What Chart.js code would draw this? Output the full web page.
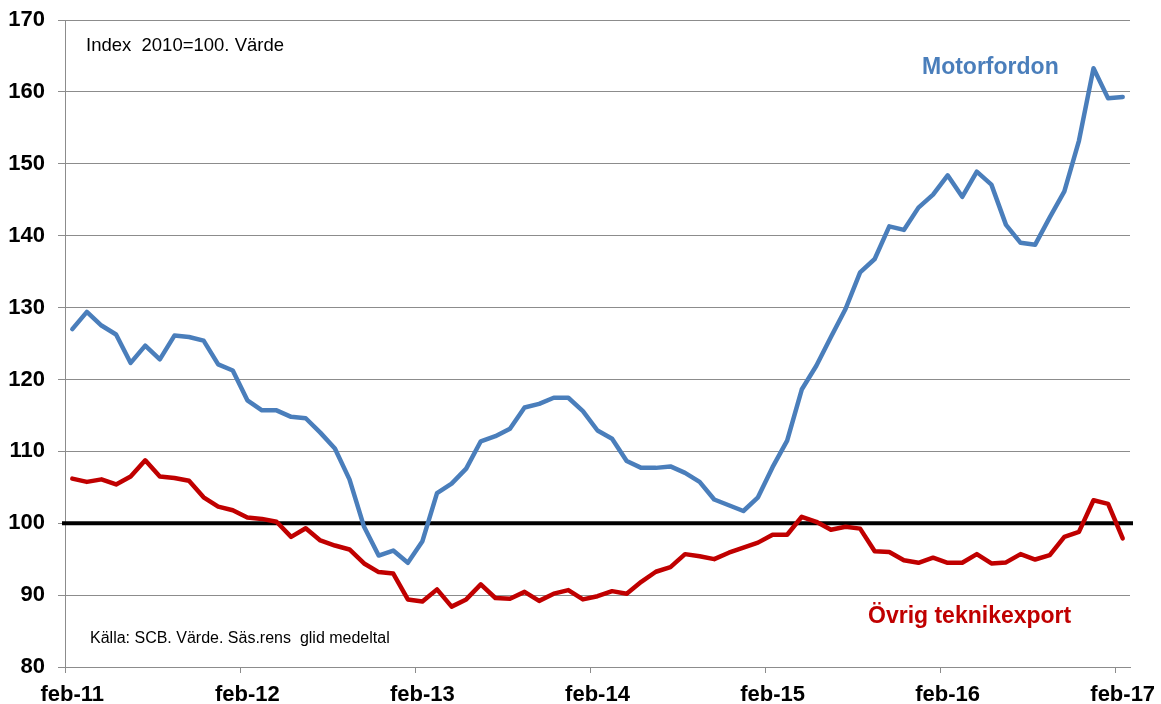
<!DOCTYPE html>
<html>
<head>
<meta charset="utf-8">
<script src="https://cdn.jsdelivr.net/npm/chart.js@4/dist/chart.umd.min.js"></script>
<style>
  body { margin: 0; background: #fff; }
  #chart { display: block; }
</style>
</head>
<body>
<canvas id="chart" width="1161" height="704"></canvas>
<script>
// Monthly categories feb-11 .. feb-17
const monthNames = ['jan', 'feb', 'mar', 'apr', 'maj', 'jun', 'jul', 'aug', 'sep', 'okt', 'nov', 'dec'];
const tickLabels = ['feb-11', 'feb-12', 'feb-13', 'feb-14', 'feb-15', 'feb-16', 'feb-17'];

const categories = [];
for (let y = 11; y <= 17; y++) {
    for (let m = 0; m < 12; m++) {
        if ((y === 11 && m < 1) || (y === 17 && m > 1)) continue;
        categories.push(monthNames[m] + '-' + y);
    }
}

// Index 2010=100, value, seasonally adjusted moving average
const motorfordon = [
    127.0, 129.4, 127.5, 126.25, 122.3, 124.7, 122.8, 126.1, 125.9, 125.4, 122.1, 121.25,
    117.1, 115.7, 115.7, 114.8, 114.6, 112.6, 110.4, 106.1, 99.5, 95.5, 96.2, 94.5,
    97.5, 104.2, 105.5, 107.6, 111.4, 112.1, 113.15, 116.1, 116.6, 117.45, 117.45, 115.6,
    112.9, 111.75, 108.65, 107.7, 107.7, 107.9, 107.0, 105.75, 103.3, 102.5, 101.7, 103.6,
    107.8, 111.5, 118.6, 121.9, 125.9, 129.8, 134.9, 136.75, 141.3, 140.8, 143.9, 145.7,
    148.4, 145.4, 148.9, 147.1, 141.5, 139.0, 138.75, 142.55, 146.15, 153.2, 163.3, 159.1,
    159.3
];

const ovrigTeknikexport = [
    106.2, 105.75, 106.1, 105.4, 106.5, 108.75, 106.5, 106.3, 105.9, 103.6, 102.3, 101.8,
    100.8, 100.6, 100.2, 98.1, 99.3, 97.6, 96.9, 96.35, 94.4, 93.2, 93.0, 89.4,
    89.1, 90.8, 88.4, 89.4, 91.5, 89.6, 89.5, 90.45, 89.2, 90.2, 90.7, 89.4,
    89.85, 90.55, 90.2, 91.85, 93.25, 93.9, 95.7, 95.4, 95.0, 95.9, 96.6, 97.3,
    98.4, 98.4, 100.9, 100.2, 99.1, 99.5, 99.25, 96.1, 96.0, 94.85, 94.5, 95.2,
    94.5, 94.5, 95.7, 94.4, 94.55, 95.7, 94.95, 95.55, 98.1, 98.8, 103.2, 102.7,
    97.9
];

const baseLevel = 100;

const FONT = '"Liberation Sans", Arial, sans-serif';
const BLUE = '#4A7EBB';
const RED = '#C00000';
const GRID = '#8C8C8C';

// Thick black line at index 100 across the plot
const baseLinePlugin = {
    id: 'baseLine',
    beforeDatasetsDraw(chart) {
        const ctx = chart.ctx;
        const area = chart.chartArea;
        const y = chart.scales.y.getPixelForValue(baseLevel);
        ctx.save();
        ctx.strokeStyle = '#000';
        ctx.lineWidth = 4;
        ctx.beginPath();
        ctx.moveTo(area.left - 3, y);
        ctx.lineTo(area.right + 3, y);
        ctx.stroke();
        ctx.restore();
    }
};

// Series names and notes written inside the plot
const notesPlugin = {
    id: 'notes',
    afterDraw(chart) {
        const ctx = chart.ctx;
        ctx.save();
        ctx.textBaseline = 'middle';
        ctx.textAlign = 'left';

        ctx.fillStyle = '#000';
        ctx.font = '18.5px ' + FONT;
        ctx.fillText('Index  2010=100. Värde', 86, 46);

        ctx.font = '16px ' + FONT;
        ctx.fillText('Källa: SCB. Värde. Säs.rens  glid medeltal', 90, 639);

        ctx.font = 'bold 23px ' + FONT;
        ctx.fillStyle = BLUE;
        ctx.fillText('Motorfordon', 922, 68);

        ctx.fillStyle = RED;
        ctx.fillText('Övrig teknikexport', 868, 617);
        ctx.restore();
    }
};

new Chart(document.getElementById('chart'), {
    type: 'line',
    data: {
        labels: categories,
        datasets: [
            {
                label: 'Motorfordon',
                data: motorfordon,
                borderColor: BLUE,
                borderWidth: 4.5,
                pointRadius: 0,
                tension: 0,
                borderJoinStyle: 'round',
                borderCapStyle: 'round'
            },
            {
                label: 'Övrig teknikexport',
                data: ovrigTeknikexport,
                borderColor: RED,
                borderWidth: 4.5,
                pointRadius: 0,
                tension: 0,
                borderJoinStyle: 'round',
                borderCapStyle: 'round'
            }
        ]
    },
    options: {
        responsive: false,
        animation: false,
        layout: { padding: { top: 20, right: 31, left: 0, bottom: 0 } },
        plugins: {
            legend: { display: false },
            tooltip: { enabled: false }
        },
        scales: {
            x: {
                type: 'category',
                offset: true,
                afterFit(scale) {
                    scale.height = 37;
                    scale.paddingLeft = 0;
                    scale.paddingRight = 0;
                },
                grid: {
                    offset: true,
                    drawOnChartArea: false,
                    tickLength: 6,
                    color: ctx => (ctx.index % 12 === 0 ? GRID : 'rgba(0,0,0,0)'),
                    lineWidth: 1
                },
                border: { color: GRID, width: 1 },
                ticks: {
                    autoSkip: false,
                    maxRotation: 0,
                    padding: 9,
                    color: '#000',
                    font: { family: FONT, size: 22, weight: 'bold' },
                    callback: function(value, index) {
                        return index % 12 === 0 ? tickLabels[index / 12] : '';
                    }
                }
            },
            y: {
                min: 80,
                max: 170,
                afterFit(scale) {
                    scale.width = 65;
                    scale.paddingTop = 0;
                    scale.paddingBottom = 0;
                },
                grid: {
                    color: GRID,
                    lineWidth: 1,
                    tickLength: 7
                },
                border: { color: GRID, width: 1 },
                ticks: {
                    stepSize: 10,
                    padding: 13,
                    color: '#000',
                    font: { family: FONT, size: 22, weight: 'bold' }
                }
            }
        }
    },
    plugins: [baseLinePlugin, notesPlugin]
});
</script>
</body>
</html>
